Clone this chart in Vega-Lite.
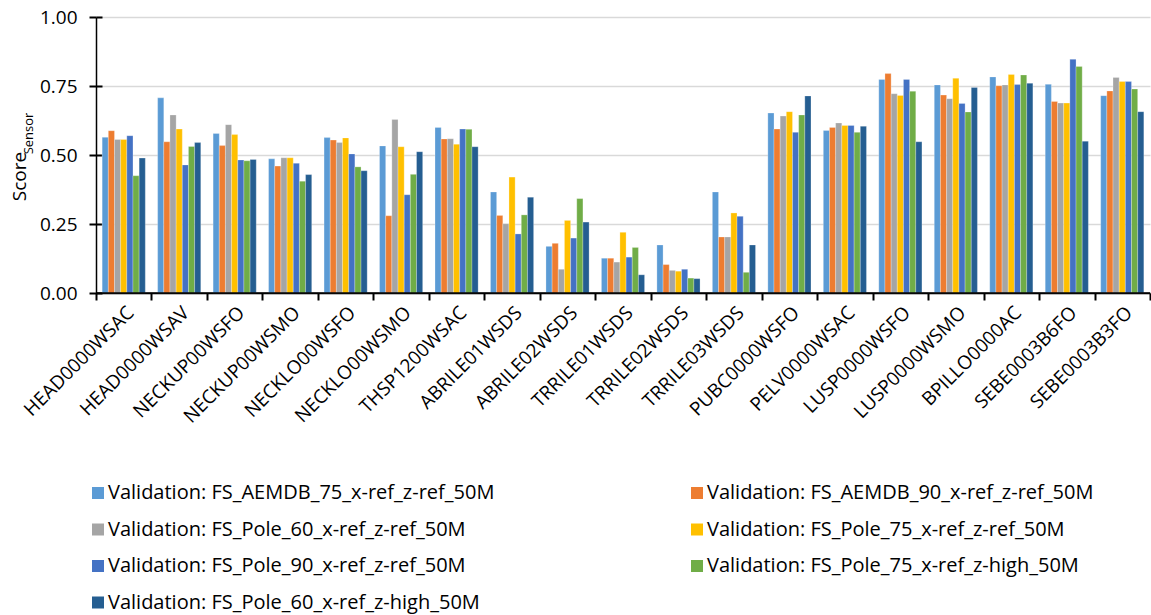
{
  "$schema": "https://vega.github.io/schema/vega-lite/v6.json",
  "autosize": "none",
  "width": 1054,
  "height": 276,
  "padding": {"left": 96, "top": 17, "right": 1, "bottom": 322},
  "background": "white",
  "config": {
    "font": "Open Sans",
    "view": {"stroke": null},
    "axis": {"labelFont": "Open Sans", "titleFont": "Open Sans", "labelColor": "#000000", "titleColor": "#000000", "titleFontWeight": "normal"},
    "legend": {"labelFont": "Open Sans"}
  },
  "data": {
    "values": [
      {"sensor": "HEAD0000WSAC", "series": "Validation: FS_AEMDB_75_x-ref_z-ref_50M", "score": 0.564},
      {"sensor": "HEAD0000WSAC", "series": "Validation: FS_AEMDB_90_x-ref_z-ref_50M", "score": 0.588},
      {"sensor": "HEAD0000WSAC", "series": "Validation: FS_Pole_60_x-ref_z-ref_50M", "score": 0.556},
      {"sensor": "HEAD0000WSAC", "series": "Validation: FS_Pole_75_x-ref_z-ref_50M", "score": 0.556},
      {"sensor": "HEAD0000WSAC", "series": "Validation: FS_Pole_90_x-ref_z-ref_50M", "score": 0.570},
      {"sensor": "HEAD0000WSAC", "series": "Validation: FS_Pole_75_x-ref_z-high_50M", "score": 0.425},
      {"sensor": "HEAD0000WSAC", "series": "Validation: FS_Pole_60_x-ref_z-high_50M", "score": 0.489},
      {"sensor": "HEAD0000WSAV", "series": "Validation: FS_AEMDB_75_x-ref_z-ref_50M", "score": 0.707},
      {"sensor": "HEAD0000WSAV", "series": "Validation: FS_AEMDB_90_x-ref_z-ref_50M", "score": 0.548},
      {"sensor": "HEAD0000WSAV", "series": "Validation: FS_Pole_60_x-ref_z-ref_50M", "score": 0.645},
      {"sensor": "HEAD0000WSAV", "series": "Validation: FS_Pole_75_x-ref_z-ref_50M", "score": 0.594},
      {"sensor": "HEAD0000WSAV", "series": "Validation: FS_Pole_90_x-ref_z-ref_50M", "score": 0.464},
      {"sensor": "HEAD0000WSAV", "series": "Validation: FS_Pole_75_x-ref_z-high_50M", "score": 0.531},
      {"sensor": "HEAD0000WSAV", "series": "Validation: FS_Pole_60_x-ref_z-high_50M", "score": 0.545},
      {"sensor": "NECKUP00WSFO", "series": "Validation: FS_AEMDB_75_x-ref_z-ref_50M", "score": 0.578},
      {"sensor": "NECKUP00WSFO", "series": "Validation: FS_AEMDB_90_x-ref_z-ref_50M", "score": 0.534},
      {"sensor": "NECKUP00WSFO", "series": "Validation: FS_Pole_60_x-ref_z-ref_50M", "score": 0.610},
      {"sensor": "NECKUP00WSFO", "series": "Validation: FS_Pole_75_x-ref_z-ref_50M", "score": 0.574},
      {"sensor": "NECKUP00WSFO", "series": "Validation: FS_Pole_90_x-ref_z-ref_50M", "score": 0.482},
      {"sensor": "NECKUP00WSFO", "series": "Validation: FS_Pole_75_x-ref_z-high_50M", "score": 0.479},
      {"sensor": "NECKUP00WSFO", "series": "Validation: FS_Pole_60_x-ref_z-high_50M", "score": 0.484},
      {"sensor": "NECKUP00WSMO", "series": "Validation: FS_AEMDB_75_x-ref_z-ref_50M", "score": 0.486},
      {"sensor": "NECKUP00WSMO", "series": "Validation: FS_AEMDB_90_x-ref_z-ref_50M", "score": 0.460},
      {"sensor": "NECKUP00WSMO", "series": "Validation: FS_Pole_60_x-ref_z-ref_50M", "score": 0.490},
      {"sensor": "NECKUP00WSMO", "series": "Validation: FS_Pole_75_x-ref_z-ref_50M", "score": 0.490},
      {"sensor": "NECKUP00WSMO", "series": "Validation: FS_Pole_90_x-ref_z-ref_50M", "score": 0.470},
      {"sensor": "NECKUP00WSMO", "series": "Validation: FS_Pole_75_x-ref_z-high_50M", "score": 0.405},
      {"sensor": "NECKUP00WSMO", "series": "Validation: FS_Pole_60_x-ref_z-high_50M", "score": 0.429},
      {"sensor": "NECKLO00WSFO", "series": "Validation: FS_AEMDB_75_x-ref_z-ref_50M", "score": 0.563},
      {"sensor": "NECKLO00WSFO", "series": "Validation: FS_AEMDB_90_x-ref_z-ref_50M", "score": 0.554},
      {"sensor": "NECKLO00WSFO", "series": "Validation: FS_Pole_60_x-ref_z-ref_50M", "score": 0.545},
      {"sensor": "NECKLO00WSFO", "series": "Validation: FS_Pole_75_x-ref_z-ref_50M", "score": 0.562},
      {"sensor": "NECKLO00WSFO", "series": "Validation: FS_Pole_90_x-ref_z-ref_50M", "score": 0.504},
      {"sensor": "NECKLO00WSFO", "series": "Validation: FS_Pole_75_x-ref_z-high_50M", "score": 0.457},
      {"sensor": "NECKLO00WSFO", "series": "Validation: FS_Pole_60_x-ref_z-high_50M", "score": 0.443},
      {"sensor": "NECKLO00WSMO", "series": "Validation: FS_AEMDB_75_x-ref_z-ref_50M", "score": 0.533},
      {"sensor": "NECKLO00WSMO", "series": "Validation: FS_AEMDB_90_x-ref_z-ref_50M", "score": 0.280},
      {"sensor": "NECKLO00WSMO", "series": "Validation: FS_Pole_60_x-ref_z-ref_50M", "score": 0.629},
      {"sensor": "NECKLO00WSMO", "series": "Validation: FS_Pole_75_x-ref_z-ref_50M", "score": 0.530},
      {"sensor": "NECKLO00WSMO", "series": "Validation: FS_Pole_90_x-ref_z-ref_50M", "score": 0.356},
      {"sensor": "NECKLO00WSMO", "series": "Validation: FS_Pole_75_x-ref_z-high_50M", "score": 0.430},
      {"sensor": "NECKLO00WSMO", "series": "Validation: FS_Pole_60_x-ref_z-high_50M", "score": 0.512},
      {"sensor": "THSP1200WSAC", "series": "Validation: FS_AEMDB_75_x-ref_z-ref_50M", "score": 0.600},
      {"sensor": "THSP1200WSAC", "series": "Validation: FS_AEMDB_90_x-ref_z-ref_50M", "score": 0.558},
      {"sensor": "THSP1200WSAC", "series": "Validation: FS_Pole_60_x-ref_z-ref_50M", "score": 0.559},
      {"sensor": "THSP1200WSAC", "series": "Validation: FS_Pole_75_x-ref_z-ref_50M", "score": 0.539},
      {"sensor": "THSP1200WSAC", "series": "Validation: FS_Pole_90_x-ref_z-ref_50M", "score": 0.594},
      {"sensor": "THSP1200WSAC", "series": "Validation: FS_Pole_75_x-ref_z-high_50M", "score": 0.593},
      {"sensor": "THSP1200WSAC", "series": "Validation: FS_Pole_60_x-ref_z-high_50M", "score": 0.530},
      {"sensor": "ABRILE01WSDS", "series": "Validation: FS_AEMDB_75_x-ref_z-ref_50M", "score": 0.366},
      {"sensor": "ABRILE01WSDS", "series": "Validation: FS_AEMDB_90_x-ref_z-ref_50M", "score": 0.281},
      {"sensor": "ABRILE01WSDS", "series": "Validation: FS_Pole_60_x-ref_z-ref_50M", "score": 0.251},
      {"sensor": "ABRILE01WSDS", "series": "Validation: FS_Pole_75_x-ref_z-ref_50M", "score": 0.420},
      {"sensor": "ABRILE01WSDS", "series": "Validation: FS_Pole_90_x-ref_z-ref_50M", "score": 0.214},
      {"sensor": "ABRILE01WSDS", "series": "Validation: FS_Pole_75_x-ref_z-high_50M", "score": 0.283},
      {"sensor": "ABRILE01WSDS", "series": "Validation: FS_Pole_60_x-ref_z-high_50M", "score": 0.347},
      {"sensor": "ABRILE02WSDS", "series": "Validation: FS_AEMDB_75_x-ref_z-ref_50M", "score": 0.169},
      {"sensor": "ABRILE02WSDS", "series": "Validation: FS_AEMDB_90_x-ref_z-ref_50M", "score": 0.180},
      {"sensor": "ABRILE02WSDS", "series": "Validation: FS_Pole_60_x-ref_z-ref_50M", "score": 0.086},
      {"sensor": "ABRILE02WSDS", "series": "Validation: FS_Pole_75_x-ref_z-ref_50M", "score": 0.263},
      {"sensor": "ABRILE02WSDS", "series": "Validation: FS_Pole_90_x-ref_z-ref_50M", "score": 0.199},
      {"sensor": "ABRILE02WSDS", "series": "Validation: FS_Pole_75_x-ref_z-high_50M", "score": 0.342},
      {"sensor": "ABRILE02WSDS", "series": "Validation: FS_Pole_60_x-ref_z-high_50M", "score": 0.257},
      {"sensor": "TRRILE01WSDS", "series": "Validation: FS_AEMDB_75_x-ref_z-ref_50M", "score": 0.126},
      {"sensor": "TRRILE01WSDS", "series": "Validation: FS_AEMDB_90_x-ref_z-ref_50M", "score": 0.126},
      {"sensor": "TRRILE01WSDS", "series": "Validation: FS_Pole_60_x-ref_z-ref_50M", "score": 0.112},
      {"sensor": "TRRILE01WSDS", "series": "Validation: FS_Pole_75_x-ref_z-ref_50M", "score": 0.220},
      {"sensor": "TRRILE01WSDS", "series": "Validation: FS_Pole_90_x-ref_z-ref_50M", "score": 0.130},
      {"sensor": "TRRILE01WSDS", "series": "Validation: FS_Pole_75_x-ref_z-high_50M", "score": 0.165},
      {"sensor": "TRRILE01WSDS", "series": "Validation: FS_Pole_60_x-ref_z-high_50M", "score": 0.066},
      {"sensor": "TRRILE02WSDS", "series": "Validation: FS_AEMDB_75_x-ref_z-ref_50M", "score": 0.174},
      {"sensor": "TRRILE02WSDS", "series": "Validation: FS_AEMDB_90_x-ref_z-ref_50M", "score": 0.103},
      {"sensor": "TRRILE02WSDS", "series": "Validation: FS_Pole_60_x-ref_z-ref_50M", "score": 0.082},
      {"sensor": "TRRILE02WSDS", "series": "Validation: FS_Pole_75_x-ref_z-ref_50M", "score": 0.079},
      {"sensor": "TRRILE02WSDS", "series": "Validation: FS_Pole_90_x-ref_z-ref_50M", "score": 0.086},
      {"sensor": "TRRILE02WSDS", "series": "Validation: FS_Pole_75_x-ref_z-high_50M", "score": 0.054},
      {"sensor": "TRRILE02WSDS", "series": "Validation: FS_Pole_60_x-ref_z-high_50M", "score": 0.052},
      {"sensor": "TRRILE03WSDS", "series": "Validation: FS_AEMDB_75_x-ref_z-ref_50M", "score": 0.366},
      {"sensor": "TRRILE03WSDS", "series": "Validation: FS_AEMDB_90_x-ref_z-ref_50M", "score": 0.203},
      {"sensor": "TRRILE03WSDS", "series": "Validation: FS_Pole_60_x-ref_z-ref_50M", "score": 0.203},
      {"sensor": "TRRILE03WSDS", "series": "Validation: FS_Pole_75_x-ref_z-ref_50M", "score": 0.290},
      {"sensor": "TRRILE03WSDS", "series": "Validation: FS_Pole_90_x-ref_z-ref_50M", "score": 0.278},
      {"sensor": "TRRILE03WSDS", "series": "Validation: FS_Pole_75_x-ref_z-high_50M", "score": 0.075},
      {"sensor": "TRRILE03WSDS", "series": "Validation: FS_Pole_60_x-ref_z-high_50M", "score": 0.174},
      {"sensor": "PUBC0000WSFO", "series": "Validation: FS_AEMDB_75_x-ref_z-ref_50M", "score": 0.652},
      {"sensor": "PUBC0000WSFO", "series": "Validation: FS_AEMDB_90_x-ref_z-ref_50M", "score": 0.594},
      {"sensor": "PUBC0000WSFO", "series": "Validation: FS_Pole_60_x-ref_z-ref_50M", "score": 0.641},
      {"sensor": "PUBC0000WSFO", "series": "Validation: FS_Pole_75_x-ref_z-ref_50M", "score": 0.657},
      {"sensor": "PUBC0000WSFO", "series": "Validation: FS_Pole_90_x-ref_z-ref_50M", "score": 0.582},
      {"sensor": "PUBC0000WSFO", "series": "Validation: FS_Pole_75_x-ref_z-high_50M", "score": 0.645},
      {"sensor": "PUBC0000WSFO", "series": "Validation: FS_Pole_60_x-ref_z-high_50M", "score": 0.714},
      {"sensor": "PELV0000WSAC", "series": "Validation: FS_AEMDB_75_x-ref_z-ref_50M", "score": 0.589},
      {"sensor": "PELV0000WSAC", "series": "Validation: FS_AEMDB_90_x-ref_z-ref_50M", "score": 0.600},
      {"sensor": "PELV0000WSAC", "series": "Validation: FS_Pole_60_x-ref_z-ref_50M", "score": 0.616},
      {"sensor": "PELV0000WSAC", "series": "Validation: FS_Pole_75_x-ref_z-ref_50M", "score": 0.607},
      {"sensor": "PELV0000WSAC", "series": "Validation: FS_Pole_90_x-ref_z-ref_50M", "score": 0.607},
      {"sensor": "PELV0000WSAC", "series": "Validation: FS_Pole_75_x-ref_z-high_50M", "score": 0.582},
      {"sensor": "PELV0000WSAC", "series": "Validation: FS_Pole_60_x-ref_z-high_50M", "score": 0.604},
      {"sensor": "LUSP0000WSFO", "series": "Validation: FS_AEMDB_75_x-ref_z-ref_50M", "score": 0.774},
      {"sensor": "LUSP0000WSFO", "series": "Validation: FS_AEMDB_90_x-ref_z-ref_50M", "score": 0.795},
      {"sensor": "LUSP0000WSFO", "series": "Validation: FS_Pole_60_x-ref_z-ref_50M", "score": 0.722},
      {"sensor": "LUSP0000WSFO", "series": "Validation: FS_Pole_75_x-ref_z-ref_50M", "score": 0.716},
      {"sensor": "LUSP0000WSFO", "series": "Validation: FS_Pole_90_x-ref_z-ref_50M", "score": 0.774},
      {"sensor": "LUSP0000WSFO", "series": "Validation: FS_Pole_75_x-ref_z-high_50M", "score": 0.731},
      {"sensor": "LUSP0000WSFO", "series": "Validation: FS_Pole_60_x-ref_z-high_50M", "score": 0.548},
      {"sensor": "LUSP0000WSMO", "series": "Validation: FS_AEMDB_75_x-ref_z-ref_50M", "score": 0.754},
      {"sensor": "LUSP0000WSMO", "series": "Validation: FS_AEMDB_90_x-ref_z-ref_50M", "score": 0.717},
      {"sensor": "LUSP0000WSMO", "series": "Validation: FS_Pole_60_x-ref_z-ref_50M", "score": 0.704},
      {"sensor": "LUSP0000WSMO", "series": "Validation: FS_Pole_75_x-ref_z-ref_50M", "score": 0.778},
      {"sensor": "LUSP0000WSMO", "series": "Validation: FS_Pole_90_x-ref_z-ref_50M", "score": 0.687},
      {"sensor": "LUSP0000WSMO", "series": "Validation: FS_Pole_75_x-ref_z-high_50M", "score": 0.656},
      {"sensor": "LUSP0000WSMO", "series": "Validation: FS_Pole_60_x-ref_z-high_50M", "score": 0.745},
      {"sensor": "BPILLO0000AC", "series": "Validation: FS_AEMDB_75_x-ref_z-ref_50M", "score": 0.783},
      {"sensor": "BPILLO0000AC", "series": "Validation: FS_AEMDB_90_x-ref_z-ref_50M", "score": 0.751},
      {"sensor": "BPILLO0000AC", "series": "Validation: FS_Pole_60_x-ref_z-ref_50M", "score": 0.754},
      {"sensor": "BPILLO0000AC", "series": "Validation: FS_Pole_75_x-ref_z-ref_50M", "score": 0.792},
      {"sensor": "BPILLO0000AC", "series": "Validation: FS_Pole_90_x-ref_z-ref_50M", "score": 0.755},
      {"sensor": "BPILLO0000AC", "series": "Validation: FS_Pole_75_x-ref_z-high_50M", "score": 0.790},
      {"sensor": "BPILLO0000AC", "series": "Validation: FS_Pole_60_x-ref_z-high_50M", "score": 0.760},
      {"sensor": "SEBE0003B6FO", "series": "Validation: FS_AEMDB_75_x-ref_z-ref_50M", "score": 0.756},
      {"sensor": "SEBE0003B6FO", "series": "Validation: FS_AEMDB_90_x-ref_z-ref_50M", "score": 0.694},
      {"sensor": "SEBE0003B6FO", "series": "Validation: FS_Pole_60_x-ref_z-ref_50M", "score": 0.688},
      {"sensor": "SEBE0003B6FO", "series": "Validation: FS_Pole_75_x-ref_z-ref_50M", "score": 0.688},
      {"sensor": "SEBE0003B6FO", "series": "Validation: FS_Pole_90_x-ref_z-ref_50M", "score": 0.847},
      {"sensor": "SEBE0003B6FO", "series": "Validation: FS_Pole_75_x-ref_z-high_50M", "score": 0.821},
      {"sensor": "SEBE0003B6FO", "series": "Validation: FS_Pole_60_x-ref_z-high_50M", "score": 0.550},
      {"sensor": "SEBE0003B3FO", "series": "Validation: FS_AEMDB_75_x-ref_z-ref_50M", "score": 0.715},
      {"sensor": "SEBE0003B3FO", "series": "Validation: FS_AEMDB_90_x-ref_z-ref_50M", "score": 0.732},
      {"sensor": "SEBE0003B3FO", "series": "Validation: FS_Pole_60_x-ref_z-ref_50M", "score": 0.781},
      {"sensor": "SEBE0003B3FO", "series": "Validation: FS_Pole_75_x-ref_z-ref_50M", "score": 0.766},
      {"sensor": "SEBE0003B3FO", "series": "Validation: FS_Pole_90_x-ref_z-ref_50M", "score": 0.766},
      {"sensor": "SEBE0003B3FO", "series": "Validation: FS_Pole_75_x-ref_z-high_50M", "score": 0.739},
      {"sensor": "SEBE0003B3FO", "series": "Validation: FS_Pole_60_x-ref_z-high_50M", "score": 0.657}
    ]
  },
  "resolve": {"axis": {"y": "independent"}},
  "layer": [
    {
      "mark": {"type": "bar", "stroke": "white", "strokeWidth": 0.5, "strokeOpacity": 0.5},
      "encoding": {
        "x": {
          "field": "sensor",
          "type": "nominal",
          "sort": null,
          "scale": {"paddingInner": 0, "paddingOuter": 0},
          "axis": {
            "title": null,
            "labelAngle": -45,
            "labelFontSize": 19,
            "labelPadding": 3,
            "tickBand": "extent",
            "tickSize": 7,
            "tickWidth": 2,
            "tickColor": "#000000",
            "domainColor": "#000000",
            "domainWidth": 1.5,
            "grid": false
          }
        },
        "xOffset": {
          "field": "series",
          "type": "nominal",
          "sort": null,
          "scale": {"paddingInner": 0, "paddingOuter": 1.09}
        },
        "y": {
          "field": "score",
          "type": "quantitative",
          "scale": {"domain": [0, 1], "nice": false},
          "axis": {
            "orient": "left",
            "title": "Score",
            "titleFontSize": 19,
            "titleAngle": -90,
            "titleAlign": "center",
            "titleBaseline": "middle",
            "titleX": -77,
            "titleY": 159,
            "values": [0, 0.25, 0.5, 0.75, 1],
            "format": ".2f",
            "labelFontSize": 19,
            "labelPadding": 12,
            "tickSize": 7,
            "tickWidth": 2,
            "tickColor": "#000000",
            "domainColor": "#000000",
            "domainWidth": 1.5,
            "gridColor": "#d9d9d9",
            "gridWidth": 1.5
          }
        },
        "color": {
          "field": "series",
          "type": "nominal",
          "sort": null,
          "scale": {"range": ["#5B9BD5", "#ED7D31", "#A5A5A5", "#FFC000", "#4472C4", "#70AD47", "#255E91"]},
          "legend": {
            "title": null,
            "orient": "none",
            "direction": "horizontal",
            "legendX": -8,
            "legendY": 466,
            "columns": 2,
            "columnPadding": 192,
            "rowPadding": 16.5,
            "symbolType": "square",
            "symbolSize": 144,
            "symbolStrokeWidth": 0,
            "labelFontSize": 20,
            "labelOffset": 0,
            "labelLimit": 600,
            "labelColor": "#000000",
            "padding": 0
          }
        }
      }
    },
    {
      "data": {"values": [{"score": 0}]},
      "mark": {"type": "rule", "color": "#000000", "strokeWidth": 1.5},
      "encoding": {
        "y": {
          "field": "score",
          "type": "quantitative",
          "axis": {
            "orient": "left",
            "title": "Sensor",
            "titleFontSize": 13,
            "titleAngle": -90,
            "titleAlign": "center",
            "titleBaseline": "middle",
            "titleX": -68,
            "titleY": 116,
            "values": [0, 0.25, 0.5, 0.75, 1],
            "labels": false,
            "ticks": true,
            "tickSize": -6,
            "tickWidth": 2,
            "tickColor": "#000000",
            "domain": false,
            "grid": false
          }
        }
      }
    }
  ]
}
